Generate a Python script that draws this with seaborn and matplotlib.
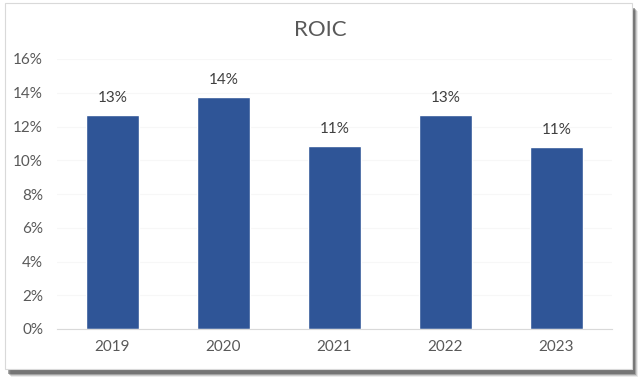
import matplotlib
matplotlib.use("Agg")
import matplotlib.pyplot as plt
import seaborn as sns
import pandas as pd
from matplotlib.patches import Rectangle

years = ["2019", "2020", "2021", "2022", "2023"]
roic = [12.7, 13.75, 10.85, 12.68, 10.8]
labels = ["13%", "14%", "11%", "13%", "11%"]
yticks = [0, 2, 4, 6, 8, 10, 12, 14, 16]

sns.set_style("white")
plt.rcParams['font.family'] = ['Lato', 'DejaVu Sans']

df = pd.DataFrame({"year": years, "roic": roic})

fig = plt.figure(figsize=(6.4, 3.84), dpi=100)
W, H = 640, 384

# shadow
for i, a in enumerate([0.10, 0.18, 0.30, 0.45]):
    off = 5 - i
    fig.patches.append(Rectangle(((6 + off) / W, (384 - 372 - off) / H), (627) / W, (366) / H,
                                 transform=fig.transFigure, facecolor="#404040", alpha=a,
                                 edgecolor="none", zorder=0))
fig.patches.append(Rectangle((5 / W, (384 - 369) / H), 627 / W, 366 / H,
                             transform=fig.transFigure, facecolor="white",
                             edgecolor="#d9d9d9", linewidth=0.8, zorder=1))

ax = fig.add_axes([57 / W, 1 - 329 / H, (612 - 57) / W, (329 - 59) / H])
ax.set_zorder(2)
ax.patch.set_alpha(0)
sns.barplot(data=df, x="year", y="roic", color="#2F5597", width=0.47, saturation=1, ax=ax)
ax.set_ylim(0, 16)
ax.set_yticks(yticks)
ax.set_yticklabels([f"{t}%" for t in yticks])
ax.yaxis.grid(True, color="#f7f7f7", linewidth=0.8)
ax.set_axisbelow(True)
for s in ["top", "right", "left"]:
    ax.spines[s].set_visible(False)
ax.spines["bottom"].set_color("#d9d9d9")
ax.tick_params(axis="both", length=0, labelsize=11, colors="#595959")
ax.tick_params(axis="y", pad=10)
ax.tick_params(axis="x", pad=8)
ax.set_xlabel("")
ax.set_ylabel("")
for c in ax.containers:
    ax.bar_label(c, labels=labels, padding=7, fontsize=11, color="#404040")

fig.text(0.5, 1 - 30 / H, "ROIC", ha="center", va="center", fontsize=16, color="#595959")

fig.savefig("out.png", dpi=100)
